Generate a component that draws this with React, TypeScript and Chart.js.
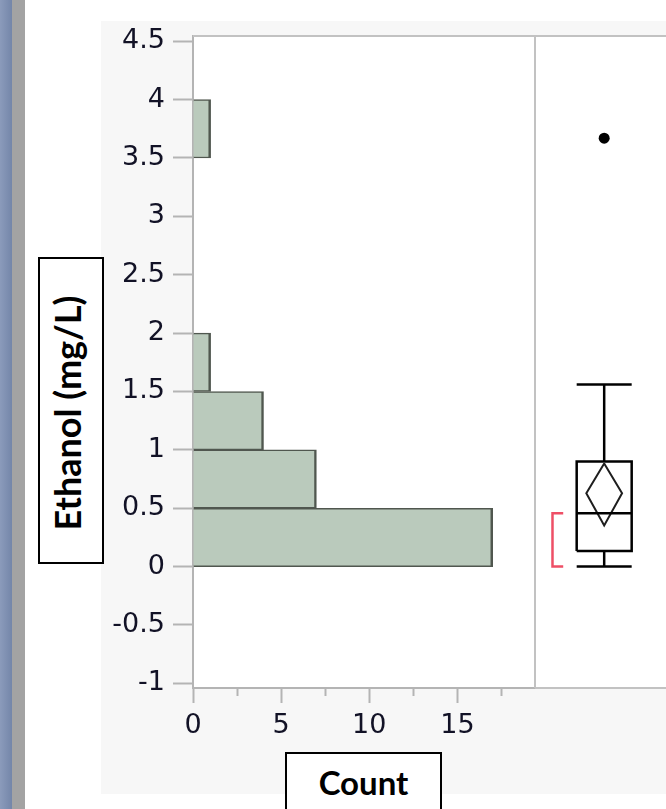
import React, { useEffect, useRef } from 'react';
import { Chart, registerables } from 'chart.js';

Chart.register(...registerables);

// ---------- data ----------
const BIN_LOWER = [0, 0.5, 1, 1.5, 2, 2.5, 3, 3.5];
const BIN_WIDTH = 0.5;
const COUNTS = [17, 7, 4, 1, 0, 0, 0, 1];

const Y_TICKS = [-1, -0.5, 0, 0.5, 1, 1.5, 2, 2.5, 3, 3.5, 4, 4.5];
const Y_TICK_LABELS = ['-1', '-0.5', '0', '0.5', '1', '1.5', '2', '2.5', '3', '3.5', '4', '4.5'];
const X_TICKS = [0, 2.5, 5, 7.5, 10, 12.5, 15, 17.5];
const X_TICK_LABELS = ['0', '', '5', '', '10', '', '15', ''];

// box plot summary (mg/L)
const WHISKER_LOW = 0;
const Q1 = 0.134;
const MEDIAN = 0.457;
const Q3 = 0.9;
const WHISKER_HIGH = 1.56;
const MEAN = 0.628;
const MEAN_CI = [0.352, 0.884];
const SHORTEST_HALF = [0, 0.457];
const OUTLIERS = [3.67];

// ---------- axis ranges / styling ----------
const Y_MIN = -1.04;
const Y_MAX = 4.545;
const X_MAX = 19.4;
const X2_MIN = -1.258;
const X2_MAX = 1.124;
const BOX_HALF = 0.5;
const DIAMOND_HALF = 0.325;
const BRACKET_X = [-0.94, -0.745];

const TICK_FONT = "'DejaVu Sans', sans-serif";
const AXIS_GRAY = '#b4b4b4';
const TICK_TEXT = '#121226';

const backdrop = {
  id: 'backdrop',
  beforeDraw(chart: any) {
    const { ctx, chartArea: a, width, height } = chart;
    ctx.save();
    ctx.fillStyle = '#ffffff';
    ctx.fillRect(0, 0, width, height);
    const g = ctx.createLinearGradient(0, 0, 12, 0);
    g.addColorStop(0, '#8b9bbb');
    g.addColorStop(1, '#7486a9');
    ctx.fillStyle = g;
    ctx.fillRect(0, 0, 12, height);
    ctx.fillStyle = '#a3a3a3';
    ctx.fillRect(12, 0, 13, height);
    ctx.fillStyle = '#f7f7f7';
    ctx.fillRect(101, 21, width - 101, 794 - 21);
    ctx.fillStyle = '#ffffff';
    ctx.fillRect(a.left, a.top, a.right - a.left, a.bottom - a.top);
    ctx.restore();
  },
  afterDraw(chart: any) {
    const { ctx, chartArea: a, scales } = chart;
    const sep = Math.round(scales.x.right);
    ctx.save();
    ctx.strokeStyle = '#c2c2c2';
    ctx.lineWidth = 2;
    ctx.beginPath();
    ctx.moveTo(a.left, a.top);
    ctx.lineTo(a.right, a.top);
    ctx.moveTo(sep, a.top);
    ctx.lineTo(sep, a.bottom);
    ctx.moveTo(sep, a.bottom);
    ctx.lineTo(a.right, a.bottom);
    ctx.stroke();
    ctx.restore();
  },
};

const seg = (data: { x: number; y: number }[], color = '#000000', width = 2.5) => ({
  type: 'line' as const,
  data,
  xAxisID: 'x2',
  yAxisID: 'y',
  indexAxis: 'x' as const,
  borderColor: color,
  borderWidth: width,
  pointRadius: 0,
  pointHoverRadius: 0,
  fill: false,
  tension: 0,
});

export default function App() {
  const ref = useRef<HTMLCanvasElement>(null);

  useEffect(() => {
    const histData = BIN_LOWER.map((lo, i) => ({ y: lo + BIN_WIDTH / 2, x: COUNTS[i] }));
    const H = BOX_HALF;
    const D = DIAMOND_HALF;
    const chart = new Chart(ref.current as HTMLCanvasElement, {
      type: 'bar',
      data: {
        datasets: [
          {
            type: 'bar',
            label: 'Count',
            data: histData as any,
            xAxisID: 'x',
            yAxisID: 'y',
            indexAxis: 'y',
            backgroundColor: '#bacabc',
            borderColor: '#50574f',
            borderWidth: { top: 1.5, right: 2.5, bottom: 1.5, left: 0 },
            borderSkipped: 'start',
            barPercentage: 1,
            categoryPercentage: 1,
          } as any,
          seg([{ x: 0, y: WHISKER_LOW }, { x: 0, y: Q1 }]),
          seg([{ x: 0, y: Q3 }, { x: 0, y: WHISKER_HIGH }]),
          seg([{ x: -H, y: WHISKER_LOW }, { x: H, y: WHISKER_LOW }]),
          seg([{ x: -H, y: WHISKER_HIGH }, { x: H, y: WHISKER_HIGH }]),
          seg([
            { x: -H, y: Q1 },
            { x: H, y: Q1 },
            { x: H, y: Q3 },
            { x: -H, y: Q3 },
            { x: -H, y: Q1 },
          ]),
          seg([{ x: -H, y: MEDIAN }, { x: H, y: MEDIAN }]),
          seg(
            [
              { x: 0, y: MEAN_CI[1] },
              { x: D, y: MEAN },
              { x: 0, y: MEAN_CI[0] },
              { x: -D, y: MEAN },
              { x: 0, y: MEAN_CI[1] },
            ],
            '#1e1e1e',
            2
          ),
          seg(
            [
              { x: BRACKET_X[1], y: SHORTEST_HALF[1] },
              { x: BRACKET_X[0], y: SHORTEST_HALF[1] },
              { x: BRACKET_X[0], y: SHORTEST_HALF[0] },
              { x: BRACKET_X[1], y: SHORTEST_HALF[0] },
            ],
            '#ee4f66',
            2.5
          ),
          {
            type: 'line',
            data: OUTLIERS.map((v) => ({ x: 0, y: v })),
            xAxisID: 'x2',
            yAxisID: 'y',
            indexAxis: 'x',
            showLine: false,
            pointRadius: 5.5,
            pointHoverRadius: 5.5,
            pointBackgroundColor: '#000000',
            pointBorderWidth: 0,
            borderColor: '#000000',
          } as any,
        ],
      },
      options: {
        indexAxis: 'y',
        responsive: false,
        maintainAspectRatio: false,
        animation: false,
        devicePixelRatio: 1,
        events: [],
        layout: { autoPadding: false, padding: { left: 0, top: 36, right: 0, bottom: 0 } },
        plugins: { legend: { display: false }, tooltip: { enabled: false }, title: { display: false } },
        scales: {
          x: {
            type: 'linear',
            axis: 'x',
            position: 'bottom',
            stack: 'bottom',
            stackWeight: 342,
            min: 0,
            max: X_MAX,
            offset: false,
            afterBuildTicks: (s: any) => {
              s.ticks = X_TICKS.map((v) => ({ value: v }));
            },
            afterFit: (s: any) => {
              s.height = 121;
            },
            grid: {
              offset: false,
              drawOnChartArea: false,
              drawTicks: true,
              tickLength: 15,
              tickColor: AXIS_GRAY,
              tickWidth: 2,
              tickBorderDash: (c: any) => (X_TICK_LABELS[c.index] ? [] : [7, 100]),
            },
            border: { display: true, color: AXIS_GRAY, width: 2 },
            ticks: {
              autoSkip: false,
              maxRotation: 0,
              padding: 9,
              color: TICK_TEXT,
              font: { family: TICK_FONT, size: 27, lineHeight: 1 },
              callback: (_v: any, i: number) => X_TICK_LABELS[i],
            },
          },
          x2: {
            type: 'linear',
            axis: 'x',
            position: 'bottom',
            stack: 'bottom',
            stackWeight: 131,
            min: X2_MIN,
            max: X2_MAX,
            offset: false,
            display: false,
          },
          y: {
            type: 'linear',
            axis: 'y',
            position: 'left',
            min: Y_MIN,
            max: Y_MAX,
            offset: false,
            z: 1,
            afterBuildTicks: (s: any) => {
              s.ticks = Y_TICKS.map((v) => ({ value: v }));
            },
            afterFit: (s: any) => {
              s.width = 193;
            },
            grid: {
              offset: false,
              drawOnChartArea: false,
              drawTicks: true,
              tickLength: 20,
              tickColor: AXIS_GRAY,
              tickWidth: 2,
            },
            border: { display: true, color: AXIS_GRAY, width: 2 },
            ticks: {
              autoSkip: false,
              padding: 8,
              color: TICK_TEXT,
              font: { family: TICK_FONT, size: 27 },
              callback: (_v: any, i: number) => Y_TICK_LABELS[i],
            },
          },
        },
      } as any,
      plugins: [backdrop],
    });
    return () => chart.destroy();
  }, []);

  return (
    <div
      style={{
        position: 'absolute',
        left: 0,
        top: 0,
        width: 666,
        height: 809,
        overflow: 'hidden',
        background: '#ffffff',
      }}
    >
      <canvas
        ref={ref}
        width={666}
        height={809}
        style={{ position: 'absolute', left: 0, top: 0, width: 666, height: 809 }}
      />
      <div
        style={{
          position: 'absolute',
          left: 38,
          top: 257,
          width: 66,
          height: 307,
          border: '2px solid #000',
          boxSizing: 'border-box',
          background: '#ffffff',
        }}
      />
      <div
        style={{
          position: 'absolute',
          left: 67,
          top: 412.5,
          transform: 'translate(-50%, -50%) rotate(-90deg)',
          fontFamily: 'Lato, sans-serif',
          fontWeight: 700,
          fontSize: 36,
          lineHeight: '36px',
          whiteSpace: 'nowrap',
          color: '#000',
        }}
      >
        Ethanol (mg/L)
      </div>
      <div
        style={{
          position: 'absolute',
          left: 285,
          top: 752,
          width: 157,
          height: 90,
          border: '2px solid #000',
          boxSizing: 'border-box',
          background: '#ffffff',
        }}
      />
      <div
        style={{
          position: 'absolute',
          left: 285,
          top: 766,
          width: 157,
          textAlign: 'center',
          fontFamily: 'Lato, sans-serif',
          fontWeight: 700,
          fontSize: 33,
          lineHeight: '33px',
          whiteSpace: 'nowrap',
          color: '#000',
        }}
      >
        Count
      </div>
    </div>
  );
}
